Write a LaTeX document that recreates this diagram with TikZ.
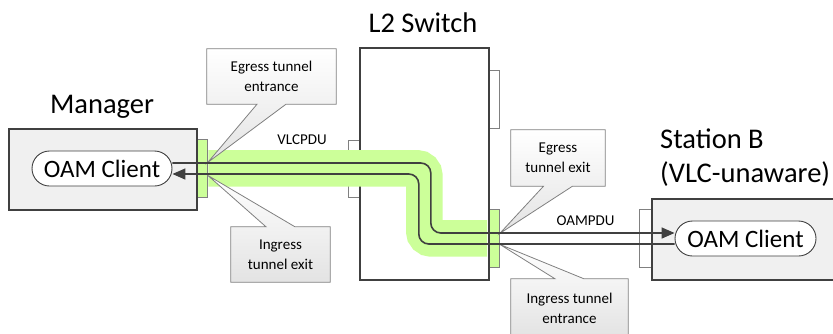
\documentclass[tikz,border=0pt]{standalone}
\usepackage{fontspec}
\setmainfont{Carlito}
\usetikzlibrary{arrows.meta,calc}
\pgfdeclarelayer{back}
\pgfdeclarelayer{mid}
\pgfsetlayers{back,mid,main}
\definecolor{linegray}{HTML}{404040}
\definecolor{boxgray}{HTML}{F0F0F0}
\definecolor{edgegray}{HTML}{808080}
\definecolor{tunnelgreen}{HTML}{CCFF99}
\begin{document}
\begin{tikzpicture}[x=1pt,y=-1pt,
    device/.style={draw=linegray,line width=1.6pt,inner sep=0pt,anchor=north west},
    port/.style={draw=edgegray,line width=0.8pt,inner sep=0pt,anchor=north west,minimum width=11pt,minimum height=58pt},
    client/.style={draw=linegray,line width=0.9pt,fill=white,rounded corners=17.5pt,inner sep=0pt,
        minimum width=140pt,minimum height=35pt,font=\fontsize{25}{30}\selectfont},
    title/.style={inner sep=0pt,anchor=base,font=\fontsize{28.5}{34}\selectfont},
    note/.style={inner sep=0pt,align=center,font=\fontsize{15}{19.7}\selectfont},
    callout/.style={draw=edgegray,line width=0.8pt,top color=white,bottom color=black!11},
    pdu/.style={inner sep=0pt,font=\fontsize{15}{18}\selectfont},
    band/.style={draw=tunnelgreen,line width=36.5pt,rounded corners=7pt},
    flow/.style={draw=linegray,line width=1.6pt,rounded corners=10pt},
    tip/.style={-{Triangle[length=13pt,width=11pt]}}]
    \useasboundingbox (0,0) rectangle (833,333);
    \begin{pgfonlayer}{back}
        \node[port,fill=tunnelgreen] (mgrport) at (196,139) {};
        \node[port,fill=white,minimum height=57pt] (swportA) at (348,140) {};
        \node[port,fill=white] (swportB) at (488,70) {};
        \node[port,fill=tunnelgreen] (swportC) at (488,209) {};
        \node[port,fill=white,minimum width=12pt] (staport) at (639,209) {};
        \node[device,fill=boxgray,minimum width=188pt,minimum height=81pt] (mgr) at (8,128) {};
        \node[device,fill=white,minimum width=129pt,minimum height=232pt] (sw) at (359,47) {};
        \node[device,fill=boxgray,minimum width=200pt,minimum height=81pt] (sta) at (651,198) {};
        \draw[band,shorten <=0.5pt,shorten >=0.8pt] (mgrport.east) -- (sw.center |- mgrport.east)
            -- (sw.center |- swportC.west) -- (swportC.west);
    \end{pgfonlayer}
    \node[title] (mgrlabel) at (102,113) {Manager};
    \node[title] (swlabel) at (423,32) {L2 Switch};
    \node[title,anchor=base west] (stalabel) at (660,148) {Station B};
    \node[title,anchor=base west] (stanote) at (660,182) {(VLC-unaware)};
    \node[client] (mgrclient) at (102,168.5) {OAM Client};
    \node[client,minimum width=141pt] (staclient) at (745.5,238.5) {OAM Client};
    \node[note,minimum width=129pt,minimum height=55pt] (egin) at (271.5,76.5) {Egress tunnel\\entrance};
    \node[note,minimum width=99pt,minimum height=55pt] (ingout) at (280.5,254.5) {Ingress\\tunnel exit};
    \node[note,minimum width=94pt,minimum height=56pt] (egout) at (558,158) {Egress\\tunnel exit};
    \node[note,minimum width=117pt,minimum height=58pt] (ingin) at (569.5,308) {Ingress tunnel\\entrance};
    \coordinate (tipA) at ($(mgrport.east)+(0,-6)$);
    \coordinate (tipB) at ($(mgrport.east)+(0,7)$);
    \coordinate (tipC) at ($(swportC.east)+(0,-5)$);
    \coordinate (tipD) at ($(swportC.east)+(0,6)$);
    \begin{pgfonlayer}{mid}
        \foreach \c/\t in {egin/tipA,egout/tipC}
            \draw[callout] (\c.north west) -- (\c.north east) -- (\c.south east) -- ($(\c.south)+(14.5,0)$)
                -- (\t) -- ($(\c.south)+(-14.5,0)$) -- (\c.south west) -- cycle;
        \foreach \c/\t in {ingout/tipB,ingin/tipD}
            \draw[callout] (\c.south west) -- (\c.south east) -- (\c.north east) -- ($(\c.north)+(14.5,0)$)
                -- (\t) -- ($(\c.north)+(-14.5,0)$) -- (\c.north west) -- cycle;
    \end{pgfonlayer}
    \node[pdu] (vlcpdu) at (302,140) {VLCPDU};
    \node[pdu] (oampdu) at (585.5,221) {OAMPDU};
    \draw[flow,tip] ($(mgrclient.east)+(0,-5.5)$) -- ($(sw.center |- mgrclient.east)+(6.5,-5.5)$)
        -- ($(sw.center |- staclient.west)+(6.5,-5.5)$) -- ($(staclient.west)+(0,-5.5)$);
    \draw[flow,tip] ($(staclient.west)+(0,5.5)$) -- ($(sw.center |- staclient.west)+(-5.5,5.5)$)
        -- ($(sw.center |- mgrclient.east)+(-5.5,5.5)$) -- ($(mgrclient.east)+(0,5.5)$);
\end{tikzpicture}
\end{document}
